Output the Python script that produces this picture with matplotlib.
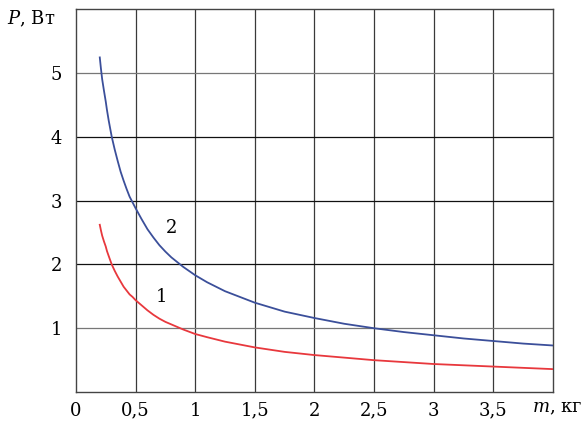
import numpy as np
import matplotlib
matplotlib.use('Agg')
import matplotlib.pyplot as plt

plt.rcParams['font.family'] = 'DejaVu Serif'
plt.rcParams['mathtext.fontset'] = 'dejavuserif'

# mass, kg
m = [0.2, 0.21, 0.22, 0.235, 0.25, 0.26, 0.275, 0.3, 0.325, 0.35, 0.375,
     0.4, 0.425, 0.45, 0.475, 0.5, 0.55, 0.6, 0.65, 0.7, 0.75, 0.8, 0.9,
     1.0, 1.1, 1.25, 1.5, 1.75, 2.0, 2.25, 2.5, 2.75, 3.0, 3.25, 3.5,
     3.75, 4.0]
# power, W (curve 2, blue)
p2 = [5.24, 5.06, 4.90, 4.72, 4.55, 4.42, 4.25, 4.0, 3.80, 3.62, 3.45,
      3.31, 3.18, 3.06, 2.97, 2.88, 2.71, 2.55, 2.42, 2.30, 2.20, 2.11, 1.96,
      1.83, 1.72, 1.58, 1.40, 1.26, 1.16, 1.07, 1.00, 0.94, 0.89, 0.84, 0.80,
      0.76, 0.73]
# power, W (curve 1, red)
p1 = [2.62, 2.53, 2.45, 2.36, 2.28, 2.21, 2.13, 2.0, 1.90, 1.81, 1.73,
      1.65, 1.59, 1.53, 1.49, 1.44, 1.36, 1.28, 1.21, 1.15, 1.10, 1.06, 0.98,
      0.91, 0.86, 0.79, 0.70, 0.63, 0.58, 0.54, 0.50, 0.47, 0.44, 0.42, 0.40,
      0.38, 0.36]

xticks = [0, 0.5, 1, 1.5, 2, 2.5, 3, 3.5]
xlabels = ['0', '0,5', '1', '1,5', '2', '2,5', '3', '3,5']
yticks = [1, 2, 3, 4, 5]
ylabels = ['1', '2', '3', '4', '5']

fig = plt.figure(figsize=(5.84, 4.23), dpi=100)
ax = fig.add_axes([0.130, 0.073, 0.817, 0.906])

# grid
for gx in np.arange(0.5, 4.0, 0.5):
    ax.axvline(gx, color='#3a3a3a', lw=0.9, zorder=1)
for gy in [1, 2, 3, 4, 5]:
    c = '#777777' if gy in (1, 5) else '#111111'
    ax.axhline(gy, color=c, lw=0.9, zorder=1)

ax.plot(m, p2, color='#3b4f9a', lw=1.3, zorder=3, solid_joinstyle='round')
ax.plot(m, p1, color='#e8383d', lw=1.3, zorder=3, solid_joinstyle='round')

ax.text(0.80, 2.57, '2', fontsize=13, ha='center', va='center')
ax.text(0.72, 1.49, '1', fontsize=13, ha='center', va='center')

ax.set_xlim(0, 4)
ax.set_ylim(0, 6)
ax.set_xticks(xticks)
ax.set_xticklabels(xlabels)
ax.set_yticks(yticks)
ax.set_yticklabels(ylabels)
ax.tick_params(length=0, labelsize=13)
ax.tick_params(axis='x', pad=7)
ax.tick_params(axis='y', pad=10)

for s in ax.spines.values():
    s.set_color('#444444')
    s.set_linewidth(1.0)

fig.text(0.997, 0.035, '$m$, кг', fontsize=13, ha='right', va='center')
fig.text(0.012, 0.955, '$P$, Вт', fontsize=13, ha='left', va='center')

fig.savefig('out.png', dpi=100)
